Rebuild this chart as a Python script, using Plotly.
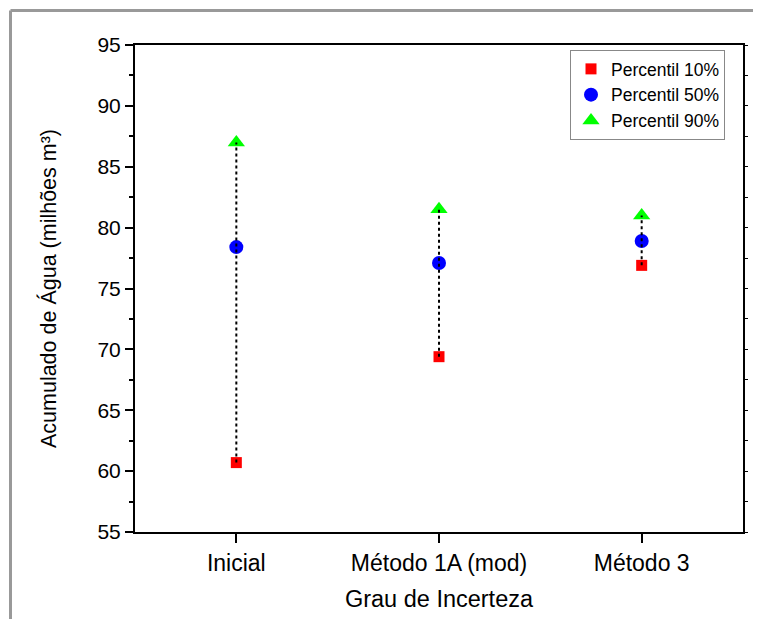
import plotly.graph_objects as go

categories = ["Inicial", "Método 1A (mod)", "Método 3"]
p10 = [60.7, 69.4, 76.9]
p50 = [78.4, 77.1, 78.9]
p90 = [87.0, 81.5, 81.0]
yticks = [55, 60, 65, 70, 75, 80, 85, 90, 95]

FONT = "Liberation Sans, Arial, Helvetica, sans-serif"

fig = go.Figure()
fig.add_trace(go.Scatter(x=categories, y=p10, mode="markers", name="Percentil 10%",
                         marker=dict(symbol="square", size=11, color="#ff0000")))
fig.add_trace(go.Scatter(x=categories, y=p50, mode="markers", name="Percentil 50%",
                         marker=dict(symbol="circle", size=14, color="#0000ff")))
fig.add_trace(go.Scatter(x=categories, y=p90, mode="markers", name="Percentil 90%",
                         marker=dict(symbol="triangle-up", size=15, color="#00ff00")))
for c, lo, hi in zip(categories, p10, p90):
    fig.add_trace(go.Scatter(x=[c, c], y=[lo, hi], mode="lines", showlegend=False,
                             line=dict(color="black", width=2, dash="dot"), hoverinfo="skip"))

# invisible trace for right axis
fig.add_trace(go.Scatter(x=[categories[0]], y=[p50[0]], yaxis="y2", mode="markers",
                         marker=dict(opacity=0), showlegend=False, hoverinfo="skip"))

# page body has an 8px offset
OFF = 8
L, R, T, B = 135 - OFF, 743 - OFF, 45 - OFF, 532 - OFF
W, H = 761 - OFF, 619 - OFF
pw, ph = R - L, B - T

fig.update_layout(
    width=W, height=H,
    margin=dict(l=L, r=W - R, t=T, b=H - B),
    paper_bgcolor="white", plot_bgcolor="white",
    font=dict(family=FONT, color="black"),
    showlegend=True,
    legend=dict(x=(570 - OFF - L) / pw, y=(B - (50 - OFF)) / ph, xanchor="left", yanchor="top",
                bgcolor="white", bordercolor="#888888", borderwidth=1,
                font=dict(size=17.5, family=FONT), itemwidth=30, tracegroupgap=0),
    xaxis=dict(type="category", range=[-0.5, 2.5], showline=True, linecolor="black", linewidth=2,
               ticks="outside", ticklen=9, tickwidth=2, tickcolor="black",
               tickfont=dict(size=23), showgrid=False, zeroline=False, mirror=True,
               title=dict(text="Grau de Incerteza", font=dict(size=23.5), standoff=16)),
    yaxis=dict(range=[55, 95], tickvals=yticks, showline=True, linecolor="black", linewidth=2,
               ticks="outside", ticklen=8, tickwidth=2, tickcolor="black",
               minor=dict(dtick=2.5, ticks="outside", ticklen=4, tickwidth=2, tickcolor="black"),
               tickfont=dict(size=21), showgrid=False, zeroline=False,
               title=dict(text="Acumulado de Água (milhões m³)", font=dict(size=21.5), standoff=35)),
    yaxis2=dict(range=[55, 95], overlaying="y", side="right", tickvals=yticks,
                showticklabels=False, showline=True, linecolor="black", linewidth=2,
                ticks="outside", ticklen=3, tickwidth=1, tickcolor="black",
                minor=dict(dtick=2.5, ticks="outside", ticklen=3, tickwidth=1, tickcolor="black"),
                showgrid=False, zeroline=False),
)

# gray outer frame
fx0 = (10.5 - OFF - L) / pw
fy1 = (B - (10.5 - OFF)) / ph
fig.add_shape(type="line", xref="paper", yref="paper", x0=fx0, x1=fx0, y0=(B - H) / ph, y1=fy1,
              line=dict(color="#999999", width=3))
fig.add_shape(type="line", xref="paper", yref="paper", x0=fx0, x1=(W - L) / pw, y0=fy1, y1=fy1,
              line=dict(color="#999999", width=3))

fig.write_html("out.html")
